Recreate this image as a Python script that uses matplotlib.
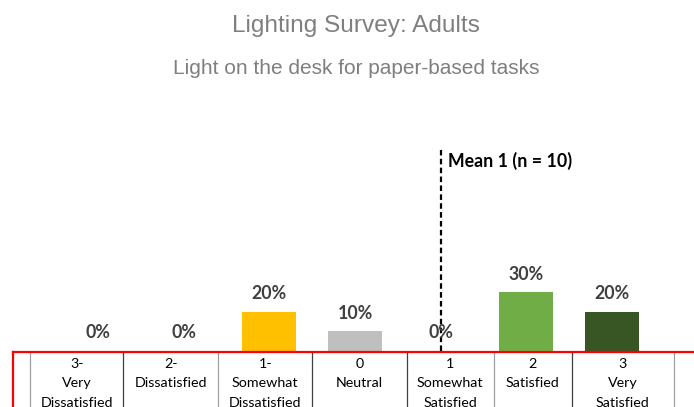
import matplotlib
matplotlib.use("Agg")
import matplotlib.pyplot as plt
from matplotlib.lines import Line2D

# survey data
scores = [-3, -2, -1, 0, 1, 2, 3]
shares = [0.0, 0.0, 0.20, 0.10, 0.0, 0.30, 0.20]
labels = ["3-\nVery\nDissatisfied", "2-\nDissatisfied", "1-\nSomewhat\nDissatisfied",
          "0\nNeutral", "1\nSomewhat\nSatisfied", "2\nSatisfied", "3\nVery\nSatisfied"]
colors = ["#FFC000", "#FFC000", "#FFC000", "#BFBFBF", "#70AD47", "#70AD47", "#375623"]
mean_score = 1
n_resp = 10
title = "Lighting Survey: Adults"
subtitle = "Light on the desk for paper-based tasks"

W, H = 694, 407
fig = plt.figure(figsize=(W / 100, H / 100), dpi=100)

def fy(py):
    return 1 - py / H

def fx(px):
    return px / W

fig.text(fx(355.5), fy(32.3), title, ha="center", va="baseline",
         fontsize=17.6, color="#7F7F7F", family="Liberation Sans")
fig.text(fx(356), fy(74), subtitle, ha="center", va="baseline",
         fontsize=15, color="#7F7F7F", family="Liberation Sans")

ax = fig.add_axes([fx(55), fy(351), 600 / W, 201 / H])
ax.bar(scores, shares, width=0.63, color=colors)
ax.set_xlim(-3.5, 3.5)
ax.set_ylim(0, 1.03)
ax.axis("off")

for x, v in zip(scores, shares):
    ax.annotate(f"{v:.0%}", (x, v), xytext=(0, 7), textcoords="offset points",
                ha="center", va="bottom", fontsize=12.8, fontweight="bold",
                color="#404040", family="Lato")

ax.axvline(mean_score, color="black", lw=1.6, ls=(0, (2.5, 1.5)))
ax.annotate(f"Mean {mean_score} (n = {n_resp})", (mean_score, 1), xycoords=("data", "axes fraction"),
            xytext=(5, -8), textcoords="offset points", ha="left", va="center",
            fontsize=12.8, fontweight="bold", color="black", family="Lato")

# table under the chart
cols = [30, 123.3, 218.3, 312.3, 406.7, 494, 571.7, 674]
col_colors = ["#A0A0A0", "#404040", "#A0A0A0", "#404040", "#404040", "#A0A0A0", "#404040", "#A0A0A0"]
for x, c in zip(cols, col_colors):
    fig.add_artist(Line2D([fx(x), fx(x)], [fy(353), fy(H)], color=c, lw=0.9))

for i, lab in enumerate(labels):
    cx = (cols[i] + cols[i + 1]) / 2
    for j, line in enumerate(lab.split("\n")):
        fig.text(fx(cx), fy(363 + 19.4 * j), line, ha="center", va="center_baseline",
                 fontsize=10.3, color="black", family="Lato")

fig.add_artist(Line2D([fx(13), fx(13)], [fy(352), fy(H + 5)], color="#FF0000", lw=1.6))
fig.add_artist(Line2D([fx(13), fx(W + 5)], [fy(352), fy(352)], color="#FF0000", lw=1.6))

fig.savefig("out.png", dpi=100)
